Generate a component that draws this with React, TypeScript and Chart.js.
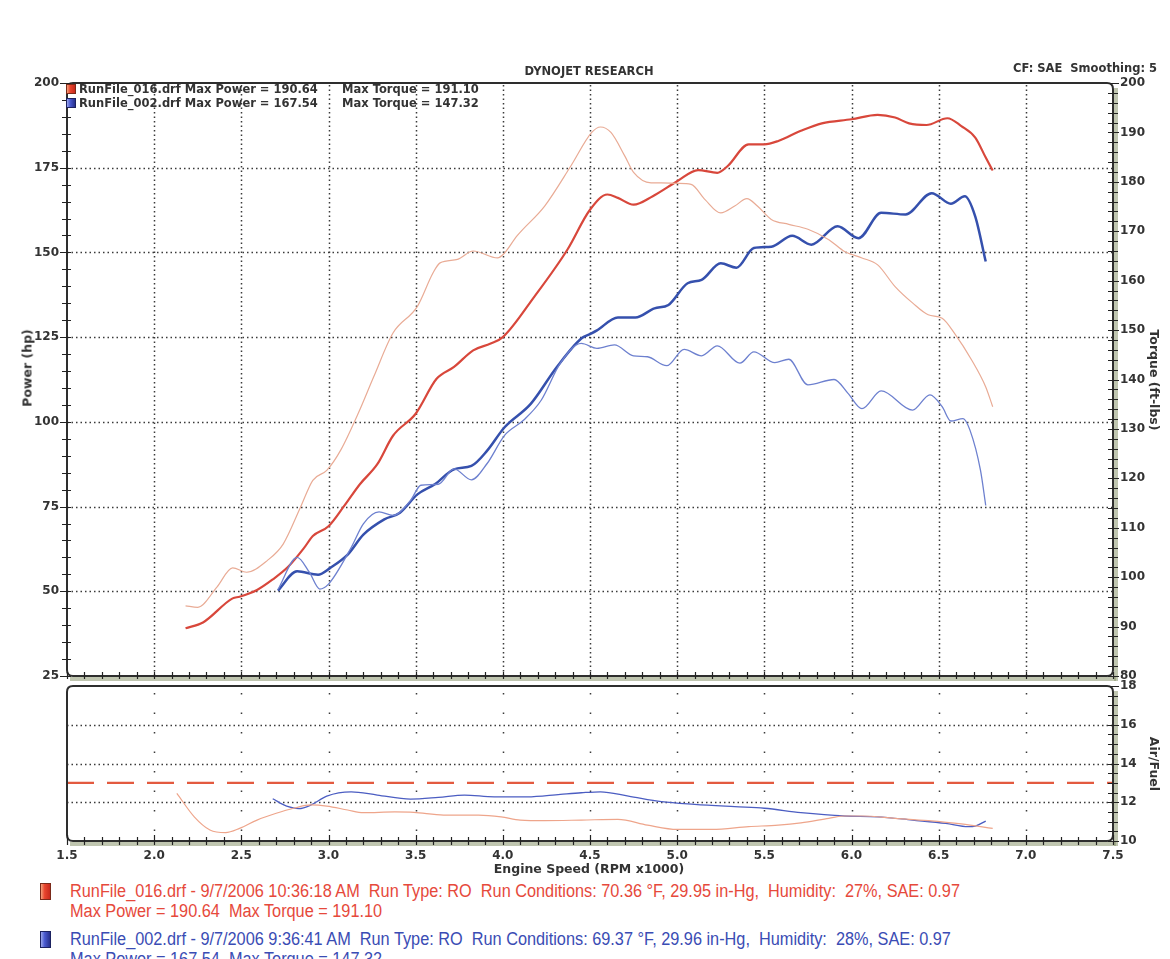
import React, { useEffect, useRef } from 'react';
import { Chart, registerables } from 'chart.js';

Chart.register(...registerables);
Chart.defaults.font.family = '"DejaVu Sans", Verdana, sans-serif';

// ---------- data ----------
const redPowerRpm = [2.18, 2.28, 2.45, 2.49, 2.59, 2.68, 2.77, 2.86, 2.91, 3.0, 3.09, 3.18, 3.28, 3.37, 3.5, 3.62, 3.72, 3.83, 3.93, 4.0, 4.18, 4.37, 4.5, 4.6, 4.66, 4.75, 4.86, 5.0, 5.12, 5.23, 5.29, 5.41, 5.5, 5.58, 5.71, 5.83, 6.0, 6.15, 6.25, 6.33, 6.43, 6.55, 6.63, 6.71, 6.77, 6.81];
const redPowerHp = [39.1, 40.8, 47.9, 48.4, 50.4, 53.5, 57.3, 62.8, 66.3, 69.2, 75.2, 81.6, 87.5, 95.9, 102.4, 112.7, 116.2, 121.1, 123.1, 125.0, 136.9, 150.8, 162.6, 167.1, 166.1, 164.1, 166.6, 171.0, 174.3, 173.5, 175.5, 181.9, 181.9, 182.9, 185.9, 188.1, 189.3, 190.6, 189.8, 188.1, 187.6, 189.6, 187.3, 183.9, 178.0, 174.2];

const redTorqueRpm = [2.18, 2.25, 2.36, 2.45, 2.53, 2.65, 2.74, 2.84, 2.91, 2.99, 3.07, 3.17, 3.26, 3.37, 3.51, 3.6, 3.64, 3.74, 3.83, 3.97, 4.01, 4.08, 4.24, 4.39, 4.51, 4.56, 4.62, 4.7, 4.75, 4.85, 4.91, 5.0, 5.08, 5.16, 5.25, 5.33, 5.4, 5.46, 5.54, 5.64, 5.75, 5.87, 5.96, 6.06, 6.15, 6.25, 6.35, 6.44, 6.52, 6.59, 6.69, 6.77, 6.81];
const redTorqueFt = [94.2, 93.9, 98.0, 101.9, 101.0, 103.4, 106.7, 114.2, 119.6, 121.6, 125.7, 133.1, 140.6, 149.4, 154.8, 161.6, 163.6, 164.3, 166.0, 164.6, 165.6, 169.0, 175.1, 183.2, 190.0, 191.1, 190.0, 185.2, 181.9, 179.8, 179.8, 179.7, 179.5, 176.4, 173.7, 175.1, 176.6, 175.1, 172.4, 171.4, 170.4, 168.3, 165.9, 164.6, 163.2, 158.8, 155.5, 153.1, 152.4, 149.4, 143.9, 138.5, 134.5];

const bluePowerRpm = [2.71, 2.82, 2.94, 3.01, 3.11, 3.2, 3.32, 3.41, 3.51, 3.61, 3.72, 3.82, 3.91, 4.01, 4.16, 4.31, 4.45, 4.5, 4.54, 4.66, 4.76, 4.87, 4.95, 5.06, 5.14, 5.25, 5.34, 5.44, 5.54, 5.66, 5.77, 5.92, 6.04, 6.17, 6.31, 6.46, 6.57, 6.65, 6.71, 6.77];
const bluePowerHp = [50.2, 55.9, 54.9, 56.9, 60.8, 66.7, 71.2, 73.2, 78.6, 81.6, 86.0, 87.0, 91.5, 98.4, 105.3, 116.2, 124.6, 125.9, 127.0, 130.8, 130.8, 133.5, 134.5, 140.9, 141.9, 146.8, 145.5, 151.3, 151.7, 154.9, 152.3, 157.7, 154.2, 161.7, 161.2, 167.5, 164.4, 166.6, 160.6, 147.3];

const blueTorqueRpm = [2.71, 2.82, 2.89, 2.95, 3.0, 3.13, 3.2, 3.29, 3.37, 3.47, 3.53, 3.63, 3.72, 3.82, 3.91, 4.01, 4.12, 4.22, 4.33, 4.45, 4.54, 4.64, 4.75, 4.83, 4.94, 5.04, 5.14, 5.23, 5.36, 5.44, 5.56, 5.64, 5.75, 5.9, 5.98, 6.06, 6.17, 6.35, 6.45, 6.52, 6.57, 6.64, 6.68, 6.74, 6.77];
const blueTorqueFt = [97.5, 104.0, 101.0, 97.6, 98.6, 106.0, 110.8, 113.2, 112.5, 115.5, 118.6, 118.8, 121.9, 119.7, 123.0, 128.7, 131.8, 135.8, 143.3, 147.3, 146.3, 147.0, 144.8, 144.6, 142.8, 146.1, 144.8, 146.8, 143.3, 145.6, 143.4, 144.1, 138.9, 140.0, 137.2, 134.1, 137.7, 133.8, 136.9, 134.5, 131.6, 132.1, 129.7, 121.6, 114.5];

const redAfrRpm = [2.13, 2.23, 2.32, 2.41, 2.49, 2.59, 2.7, 2.8, 2.9, 2.99, 3.11, 3.2, 3.38, 3.49, 3.66, 3.86, 3.99, 4.1, 4.24, 4.45, 4.66, 4.83, 5.0, 5.2, 5.41, 5.58, 5.71, 5.87, 5.96, 6.06, 6.25, 6.44, 6.63, 6.81];
const redAfr = [12.46, 11.25, 10.57, 10.43, 10.65, 11.08, 11.43, 11.69, 11.86, 11.8, 11.6, 11.46, 11.5, 11.48, 11.34, 11.34, 11.25, 11.08, 11.05, 11.08, 11.12, 10.82, 10.6, 10.6, 10.74, 10.82, 10.94, 11.17, 11.29, 11.29, 11.17, 11.05, 10.88, 10.65];

const blueAfrRpm = [2.68, 2.76, 2.83, 2.9, 2.99, 3.13, 3.28, 3.47, 3.63, 3.78, 3.95, 4.14, 4.33, 4.45, 4.56, 4.72, 4.91, 5.1, 5.33, 5.5, 5.71, 5.96, 6.15, 6.35, 6.54, 6.67, 6.71, 6.77];
const blueAfr = [12.18, 11.8, 11.67, 11.86, 12.32, 12.54, 12.37, 12.16, 12.25, 12.37, 12.28, 12.28, 12.41, 12.49, 12.54, 12.32, 12.03, 11.89, 11.77, 11.69, 11.46, 11.29, 11.25, 11.08, 10.91, 10.74, 10.77, 11.03];

const afrTargetRpm = [1.5, 7.5];
const afrTarget = [13, 13];

const rpmGrid = [2.0, 2.5, 3.0, 3.5, 4.0, 4.5, 5.0, 5.5, 6.0, 6.5, 7.0];
const hpGrid = [50, 75, 100, 125, 150, 175];
const afrGrid = [12, 14, 16];

const legendTop = [
  { name: 'RunFile_016.drf', maxPower: '190.64', maxTorque: '191.10', color: 'red' },
  { name: 'RunFile_002.drf', maxPower: '167.54', maxTorque: '147.32', color: 'blue' },
];

const runInfo = [
  { line1: 'RunFile_016.drf - 9/7/2006 10:36:18 AM  Run Type: RO  Run Conditions: 70.36 °F, 29.95 in-Hg,  Humidity:  27%, SAE: 0.97', line2: 'Max Power = 190.64  Max Torque = 191.10', color: 'red' },
  { line1: 'RunFile_002.drf - 9/7/2006 9:36:41 AM  Run Type: RO  Run Conditions: 69.37 °F, 29.96 in-Hg,  Humidity:  28%, SAE: 0.97', line2: 'Max Power = 167.54  Max Torque = 147.32', color: 'blue' },
];

const pts = (xs: number[], ys: number[]) => xs.map((x, i) => ({ x, y: ys[i] }));

// ---------- style ----------
const FRAME = '#2e2e2e';
const SHADOW = 'rgba(140,152,112,0.55)';
const TICK_FONT = { family: '"DejaVu Sans", Verdana, sans-serif', size: 12, weight: 'bold' as const };
const TEXT = '#333333';
const RED_TXT = '#e6493b';
const BLUE_TXT = '#3a4cb4';

function roundRectPath(ctx: CanvasRenderingContext2D, l: number, t: number, r: number, b: number, rad: number) {
  ctx.beginPath();
  ctx.moveTo(l + rad, t);
  ctx.lineTo(r - rad, t);
  ctx.quadraticCurveTo(r, t, r, t + rad);
  ctx.lineTo(r, b - rad);
  ctx.quadraticCurveTo(r, b, r - rad, b);
  ctx.lineTo(l + rad, b);
  ctx.quadraticCurveTo(l, b, l, b - rad);
  ctx.lineTo(l, t + rad);
  ctx.quadraticCurveTo(l, t, l + rad, t);
  ctx.closePath();
}

const mainPlugin = {
  id: 'dynoMain',
  beforeDatasetsDraw(chart: any) {
    const { ctx, chartArea: a, scales } = chart;
    ctx.save();
    ctx.strokeStyle = '#3a3a3a';
    ctx.lineWidth = 1.5;
    ctx.setLineDash([1.5, 3]);
    for (const v of rpmGrid) {
      const x = Math.round(scales.x.getPixelForValue(v)) + 0.5;
      ctx.beginPath();
      ctx.moveTo(x, a.top + 2);
      ctx.lineTo(x, a.bottom);
      ctx.stroke();
    }
    for (const v of hpGrid) {
      const y = Math.round(scales.y.getPixelForValue(v)) + 0.5;
      ctx.beginPath();
      ctx.moveTo(a.left, y);
      ctx.lineTo(a.right, y);
      ctx.stroke();
    }
    ctx.restore();
  },
  afterDatasetsDraw(chart: any) {
    const { ctx, chartArea: a, scales } = chart;
    ctx.save();
    ctx.fillStyle = SHADOW;
    ctx.fillRect(a.left + 3, a.bottom + 1, a.right - a.left, 4);
    ctx.fillRect(a.right + 1, a.top + 5, 4, a.bottom - a.top);
    ctx.strokeStyle = FRAME;
    ctx.lineWidth = 2;
    roundRectPath(ctx, a.left, a.top, a.right, a.bottom, 6);
    ctx.stroke();
    ctx.lineWidth = 1.2;
    ctx.strokeStyle = '#222';
    ctx.beginPath();
    for (let v = 25; v <= 200; v += 5) {
      const y = Math.round(scales.y.getPixelForValue(v)) + 0.5;
      const major = v % 25 === 0;
      ctx.moveTo(a.left - (major ? 7 : 5), y);
      ctx.lineTo(a.left + 4, y);
    }
    for (let v = 80; v <= 200; v += 2) {
      const y = Math.round(scales.y1.getPixelForValue(v)) + 0.5;
      const major = v % 10 === 0;
      ctx.moveTo(a.right - 5, y);
      ctx.lineTo(a.right + (major ? 6 : 5), y);
    }
    for (let i = 15; i <= 75; i++) {
      const x = Math.round(scales.x.getPixelForValue(i / 10)) + 0.5;
      ctx.moveTo(x, a.bottom - 4);
      ctx.lineTo(x, a.bottom + 3);
    }
    ctx.stroke();
    ctx.restore();
  },
};

const lowerPlugin = {
  id: 'dynoLower',
  beforeDatasetsDraw(chart: any) {
    const { ctx, chartArea: a, scales } = chart;
    ctx.save();
    ctx.strokeStyle = '#3a3a3a';
    ctx.lineWidth = 1.5;
    ctx.setLineDash([1.5, 18]);
    for (const v of rpmGrid) {
      const x = Math.round(scales.x.getPixelForValue(v)) + 0.5;
      ctx.beginPath();
      ctx.moveTo(x, a.top + 7);
      ctx.lineTo(x, a.bottom);
      ctx.stroke();
    }
    ctx.setLineDash([1.5, 3]);
    for (const v of afrGrid) {
      const y = Math.round(scales.y.getPixelForValue(v)) + 0.5;
      ctx.beginPath();
      ctx.moveTo(a.left, y);
      ctx.lineTo(a.right, y);
      ctx.stroke();
    }
    ctx.restore();
  },
  afterDatasetsDraw(chart: any) {
    const { ctx, chartArea: a, scales } = chart;
    ctx.save();
    ctx.fillStyle = SHADOW;
    ctx.fillRect(a.left + 3, a.bottom + 1, a.right - a.left, 4);
    ctx.fillRect(a.right + 1, a.top + 5, 4, a.bottom - a.top);
    ctx.strokeStyle = FRAME;
    ctx.lineWidth = 2;
    roundRectPath(ctx, a.left, a.top, a.right, a.bottom, 6);
    ctx.stroke();
    ctx.lineWidth = 1.2;
    ctx.strokeStyle = '#222';
    ctx.beginPath();
    for (let i = 15; i <= 75; i++) {
      const x = Math.round(scales.x.getPixelForValue(i / 10)) + 0.5;
      const major = i % 5 === 0;
      ctx.moveTo(x, a.bottom - (major ? 6 : 4));
      ctx.lineTo(x, a.bottom + 4);
    }
    for (let v = 10; v <= 18; v += 0.5) {
      const y = Math.round(scales.y.getPixelForValue(v)) + 0.5;
      const major = v % 2 === 0;
      ctx.moveTo(a.right - 5, y);
      ctx.lineTo(a.right + (major ? 6 : 5), y);
    }
    ctx.stroke();
    ctx.restore();
  },
};

const lineBase = { pointRadius: 0, fill: false, cubicInterpolationMode: 'monotone' as const };

export default function App() {
  const mainRef = useRef<HTMLCanvasElement>(null);
  const lowRef = useRef<HTMLCanvasElement>(null);

  useEffect(() => {
    const main = new Chart(mainRef.current!, {
      type: 'line',
      data: {
        datasets: [
          { ...lineBase, data: pts(redTorqueRpm, redTorqueFt), yAxisID: 'y1', borderColor: '#e9ab95', borderWidth: 1.2 },
          { ...lineBase, data: pts(blueTorqueRpm, blueTorqueFt), yAxisID: 'y1', borderColor: '#6d80cf', borderWidth: 1.3 },
          { ...lineBase, data: pts(redPowerRpm, redPowerHp), yAxisID: 'y', borderColor: '#d8473b', borderWidth: 2.2 },
          { ...lineBase, data: pts(bluePowerRpm, bluePowerHp), yAxisID: 'y', borderColor: '#3550ad', borderWidth: 2.5 },
        ],
      },
      options: {
        animation: false,
        responsive: false,
        maintainAspectRatio: false,
        layout: { padding: { top: 83, bottom: 24, left: 0, right: 0 } },
        plugins: { legend: { display: false }, tooltip: { enabled: false } },
        scales: {
          x: {
            type: 'linear', min: 1.5, max: 7.5,
            grid: { display: false, drawTicks: false }, border: { display: false },
            ticks: { display: false },
            afterFit: (s: any) => { s.height = 0; },
          },
          y: {
            type: 'linear', position: 'left', min: 25, max: 200,
            grid: { display: false, drawTicks: false }, border: { display: false },
            ticks: { stepSize: 25, padding: 8, color: TEXT, font: TICK_FONT },
            afterFit: (s: any) => { s.width = 67; },
          },
          y1: {
            type: 'linear', position: 'right', min: 80, max: 200,
            grid: { display: false, drawTicks: false }, border: { display: false },
            ticks: { stepSize: 10, padding: 7, color: TEXT, font: TICK_FONT },
            afterFit: (s: any) => { s.width = 57; },
          },
        },
      } as any,
      plugins: [mainPlugin],
    });

    const low = new Chart(lowRef.current!, {
      type: 'line',
      data: {
        datasets: [
          { ...lineBase, data: pts(afrTargetRpm, afrTarget), borderColor: '#e35a3f', borderWidth: 2.4, borderDash: [27, 13], cubicInterpolationMode: 'default' },
          { ...lineBase, data: pts(redAfrRpm, redAfr), borderColor: '#eea58b', borderWidth: 1.2 },
          { ...lineBase, data: pts(blueAfrRpm, blueAfr), borderColor: '#4b5dc2', borderWidth: 1.3 },
        ],
      },
      options: {
        animation: false,
        responsive: false,
        maintainAspectRatio: false,
        layout: { padding: { top: 16, bottom: 0, left: 67, right: 0 } },
        plugins: { legend: { display: false }, tooltip: { enabled: false } },
        scales: {
          x: {
            type: 'linear', min: 1.5, max: 7.5,
            grid: { display: false, drawTicks: false }, border: { display: false },
            ticks: { stepSize: 0.5, padding: 8, color: TEXT, font: TICK_FONT, maxRotation: 0, autoSkip: false, callback: (v: any) => Number(v).toFixed(1) },
            afterFit: (s: any) => { s.height = 39; },
          },
          y: {
            type: 'linear', position: 'right', min: 10, max: 18,
            grid: { display: false, drawTicks: false }, border: { display: false },
            ticks: { stepSize: 2, padding: 7, color: TEXT, font: TICK_FONT },
            afterFit: (s: any) => { s.width = 57; },
          },
        },
      } as any,
      plugins: [lowerPlugin],
    });

    return () => { main.destroy(); low.destroy(); };
  }, []);

  const bold = '"DejaVu Sans", Verdana, sans-serif';
  const sans = '"Liberation Sans", Arial, sans-serif';
  const sq = (c: string, style: React.CSSProperties) => (
    <div style={{
      position: 'absolute', boxSizing: 'border-box',
      background: c === 'red' ? 'linear-gradient(90deg,#f4a07a,#e8452e 40%,#c82a1c)' : 'linear-gradient(90deg,#9aa6ec,#4a5ad0 40%,#27308c)',
      border: `1px solid ${c === 'red' ? '#7a2a1a' : '#1c2260'}`,
      ...style,
    }} />
  );

  return (
    <div style={{ position: 'absolute', left: 0, top: 0, width: 1170, height: 959, background: '#fff', overflow: 'hidden' }}>
      <canvas ref={mainRef} width={1170} height={700} style={{ position: 'absolute', left: 0, top: 0 }} />
      <canvas ref={lowRef} width={1170} height={210} style={{ position: 'absolute', left: 0, top: 670 }} />

      <div style={{ position: 'absolute', left: 489, width: 200, top: 64, textAlign: 'center', font: `bold 11.5px ${bold}`, color: TEXT }}>DYNOJET RESEARCH</div>
      <div style={{ position: 'absolute', left: 1013, top: 61, font: `bold 11.5px ${bold}`, color: TEXT, whiteSpace: 'pre' }}>CF: SAE  Smoothing: 5</div>

      {legendTop.map((l, i) => (
        <React.Fragment key={l.name}>
          {sq(l.color, { left: 66, top: 84 + i * 14, width: 10, height: 10 })}
          <div style={{ position: 'absolute', left: 79, top: 82 + i * 14, font: `bold 11.5px ${bold}`, color: TEXT, whiteSpace: 'pre' }}>{`${l.name} Max Power = ${l.maxPower}`}</div>
          <div style={{ position: 'absolute', left: 342, top: 82 + i * 14, font: `bold 11.5px ${bold}`, color: TEXT, whiteSpace: 'pre' }}>{`Max Torque = ${l.maxTorque}`}</div>
        </React.Fragment>
      ))}

      <div style={{ position: 'absolute', left: 27, top: 368, transform: 'translate(-50%,-50%) rotate(-90deg)', font: `bold 12.5px ${bold}`, color: TEXT, whiteSpace: 'pre' }}>Power (hp)</div>
      <div style={{ position: 'absolute', left: 1154, top: 380, transform: 'translate(-50%,-50%) rotate(90deg)', font: `bold 12.5px ${bold}`, color: TEXT, whiteSpace: 'pre' }}>Torque (ft-lbs)</div>
      <div style={{ position: 'absolute', left: 1154, top: 764, transform: 'translate(-50%,-50%) rotate(90deg)', font: `bold 12.5px ${bold}`, color: TEXT, whiteSpace: 'pre' }}>Air/Fuel</div>
      <div style={{ position: 'absolute', left: 389, width: 400, top: 861, textAlign: 'center', font: `bold 12.5px ${bold}`, color: TEXT }}>Engine Speed (RPM x1000)</div>

      {runInfo.map((r, i) => (
        <React.Fragment key={r.line1}>
          {sq(r.color, { left: 40, top: 883 + i * 48, width: 11, height: 17 })}
          <div style={{ position: 'absolute', left: 70, top: 881 + i * 48, font: `18px ${sans}`, color: r.color === 'red' ? RED_TXT : BLUE_TXT, whiteSpace: 'pre', lineHeight: '20px', transform: 'scaleX(0.905)', transformOrigin: '0 0' }}>
            {r.line1}<br />{r.line2}
          </div>
        </React.Fragment>
      ))}
    </div>
  );
}
